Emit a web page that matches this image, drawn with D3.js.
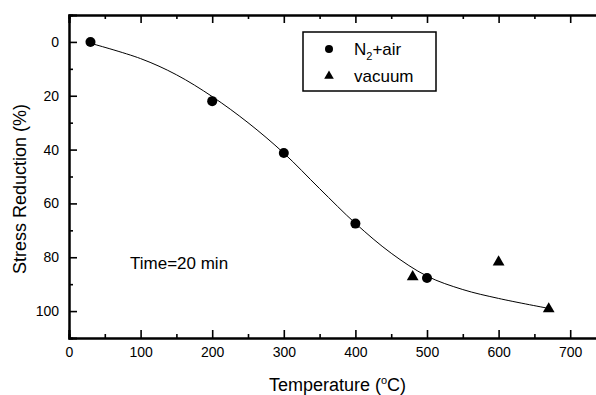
<!DOCTYPE html>
<html>
<head>
<meta charset="utf-8">
<script src="https://cdn.jsdelivr.net/npm/d3@7"></script>
<style>
  body { margin: 0; background: #fff; }
  svg { display: block; font-family: "Liberation Sans", Arial, sans-serif; }
</style>
</head>
<body>
<div class="container"></div>
<script>
// N2 + air anneal points
const n2Temp = [30, 200, 300, 400, 500];
const n2Red = [0, 22, 41.3, 67.5, 87.7];

// vacuum anneal points
const vacTemp = [480, 600, 670];
const vacRed = [87.3, 81.8, 99.2];

// fitted curve
const fitTemp = [30, 100, 150, 200, 250, 300, 350, 400, 450, 500, 550, 600, 670];
const fitRed = [0.5, 6.2, 12.2, 20.3, 30, 41.3, 54.5, 67.4, 78.5, 87, 92, 95.3, 99];

const xTicks = [0, 100, 200, 300, 400, 500, 600, 700];
const xMinor = [50, 150, 250, 350, 450, 550, 650];
const yTicks = [0, 20, 40, 60, 80, 100];
const yMinor = [10, 30, 50, 70, 90];

const width = 596, height = 395;
const margin = {top: 15, left: 69};
const plotW = 537, plotH = 323;

const svg = d3.select('.container')
    .append('svg')
    .attr('width', width)
    .attr('height', height);

const x = d3.scaleLinear().domain([0, 750]).range([margin.left, margin.left + plotW]);
const y = d3.scaleLinear().domain([-10, 110]).range([margin.top, margin.top + plotH]);

const fontTick = '14px';

function styleAxis(g) {
    g.select('.domain').attr('stroke', '#000').attr('stroke-width', 2);
    g.selectAll('.tick line').attr('stroke', '#000').attr('stroke-width', 1.6);
    g.selectAll('text').attr('fill', '#000').style('font-size', fontTick);
}

// bottom axis
svg.append('g')
    .attr('transform', `translate(0,${y(110)})`)
    .call(d3.axisBottom(x).tickValues(xTicks).tickSize(-8).tickPadding(9).tickFormat(d3.format('d')))
    .call(styleAxis);
svg.append('g')
    .attr('transform', `translate(0,${y(110)})`)
    .call(d3.axisBottom(x).tickValues(xMinor).tickSize(-4).tickFormat(''))
    .call(styleAxis);

// top axis
svg.append('g')
    .attr('transform', `translate(0,${y(-10)})`)
    .call(d3.axisTop(x).tickValues(xTicks).tickSize(-8).tickFormat(''))
    .call(styleAxis);
svg.append('g')
    .attr('transform', `translate(0,${y(-10)})`)
    .call(d3.axisTop(x).tickValues(xMinor).tickSize(-4).tickFormat(''))
    .call(styleAxis);

// left axis
svg.append('g')
    .attr('transform', `translate(${x(0)},0)`)
    .call(d3.axisLeft(y).tickValues(yTicks).tickSize(-8).tickPadding(10).tickFormat(d3.format('d')))
    .call(styleAxis);
svg.append('g')
    .attr('transform', `translate(${x(0)},0)`)
    .call(d3.axisLeft(y).tickValues(yMinor).tickSize(-4).tickFormat(''))
    .call(styleAxis);

// right axis (runs off the picture)
svg.append('g')
    .attr('transform', `translate(${x(750)},0)`)
    .call(d3.axisRight(y).tickValues(yTicks).tickSize(-8).tickFormat(''))
    .call(styleAxis);

// fitted curve
const fit = fitTemp.map((t, i) => [t, fitRed[i]]);
svg.append('path')
    .datum(fit)
    .attr('fill', 'none')
    .attr('stroke', '#000')
    .attr('stroke-width', 1)
    .attr('d', d3.line().x(d => x(d[0])).y(d => y(d[1])).curve(d3.curveCatmullRom.alpha(0.5)));

// N2+air circles
svg.append('g')
    .selectAll('circle')
    .data(n2Temp.map((t, i) => [t, n2Red[i]]))
    .join('circle')
    .attr('cx', d => x(d[0]))
    .attr('cy', d => y(d[1]))
    .attr('r', 5)
    .attr('fill', '#000');

// vacuum triangles
const tri = d3.symbol().type(d3.symbolTriangle).size(60);
svg.append('g')
    .selectAll('path')
    .data(vacTemp.map((t, i) => [t, vacRed[i]]))
    .join('path')
    .attr('transform', d => `translate(${x(d[0])},${y(d[1])})`)
    .attr('d', tri)
    .attr('fill', '#000');

// axis titles
svg.append('text')
    .attr('x', x(375))
    .attr('y', 391)
    .attr('text-anchor', 'middle')
    .style('font-size', '18px')
    .html('Temperature (<tspan dy="-7" font-size="11px">o</tspan><tspan dy="7">C)</tspan>');

svg.append('text')
    .attr('transform', 'translate(26,189) rotate(-90)')
    .attr('text-anchor', 'middle')
    .style('font-size', '18px')
    .text('Stress Reduction (%)');

// annotation
svg.append('text')
    .attr('x', 130)
    .attr('y', 269)
    .style('font-size', '17px')
    .text('Time=20 min');

// legend
const leg = svg.append('g');
leg.append('rect')
    .attr('x', 303).attr('y', 32)
    .attr('width', 133).attr('height', 59)
    .attr('fill', '#fff')
    .attr('stroke', '#000')
    .attr('stroke-width', 1.5);
leg.append('circle')
    .attr('cx', 329).attr('cy', 49).attr('r', 4).attr('fill', '#000');
leg.append('path')
    .attr('transform', 'translate(329,76)')
    .attr('d', d3.symbol().type(d3.symbolTriangle).size(40))
    .attr('fill', '#000');
leg.append('text')
    .attr('x', 354).attr('y', 55)
    .style('font-size', '17px')
    .html('N<tspan dy="5" font-size="11px">2</tspan><tspan dy="-5">+air</tspan>');
leg.append('text')
    .attr('x', 354).attr('y', 82)
    .style('font-size', '17px')
    .text('vacuum');
</script>
</body>
</html>
